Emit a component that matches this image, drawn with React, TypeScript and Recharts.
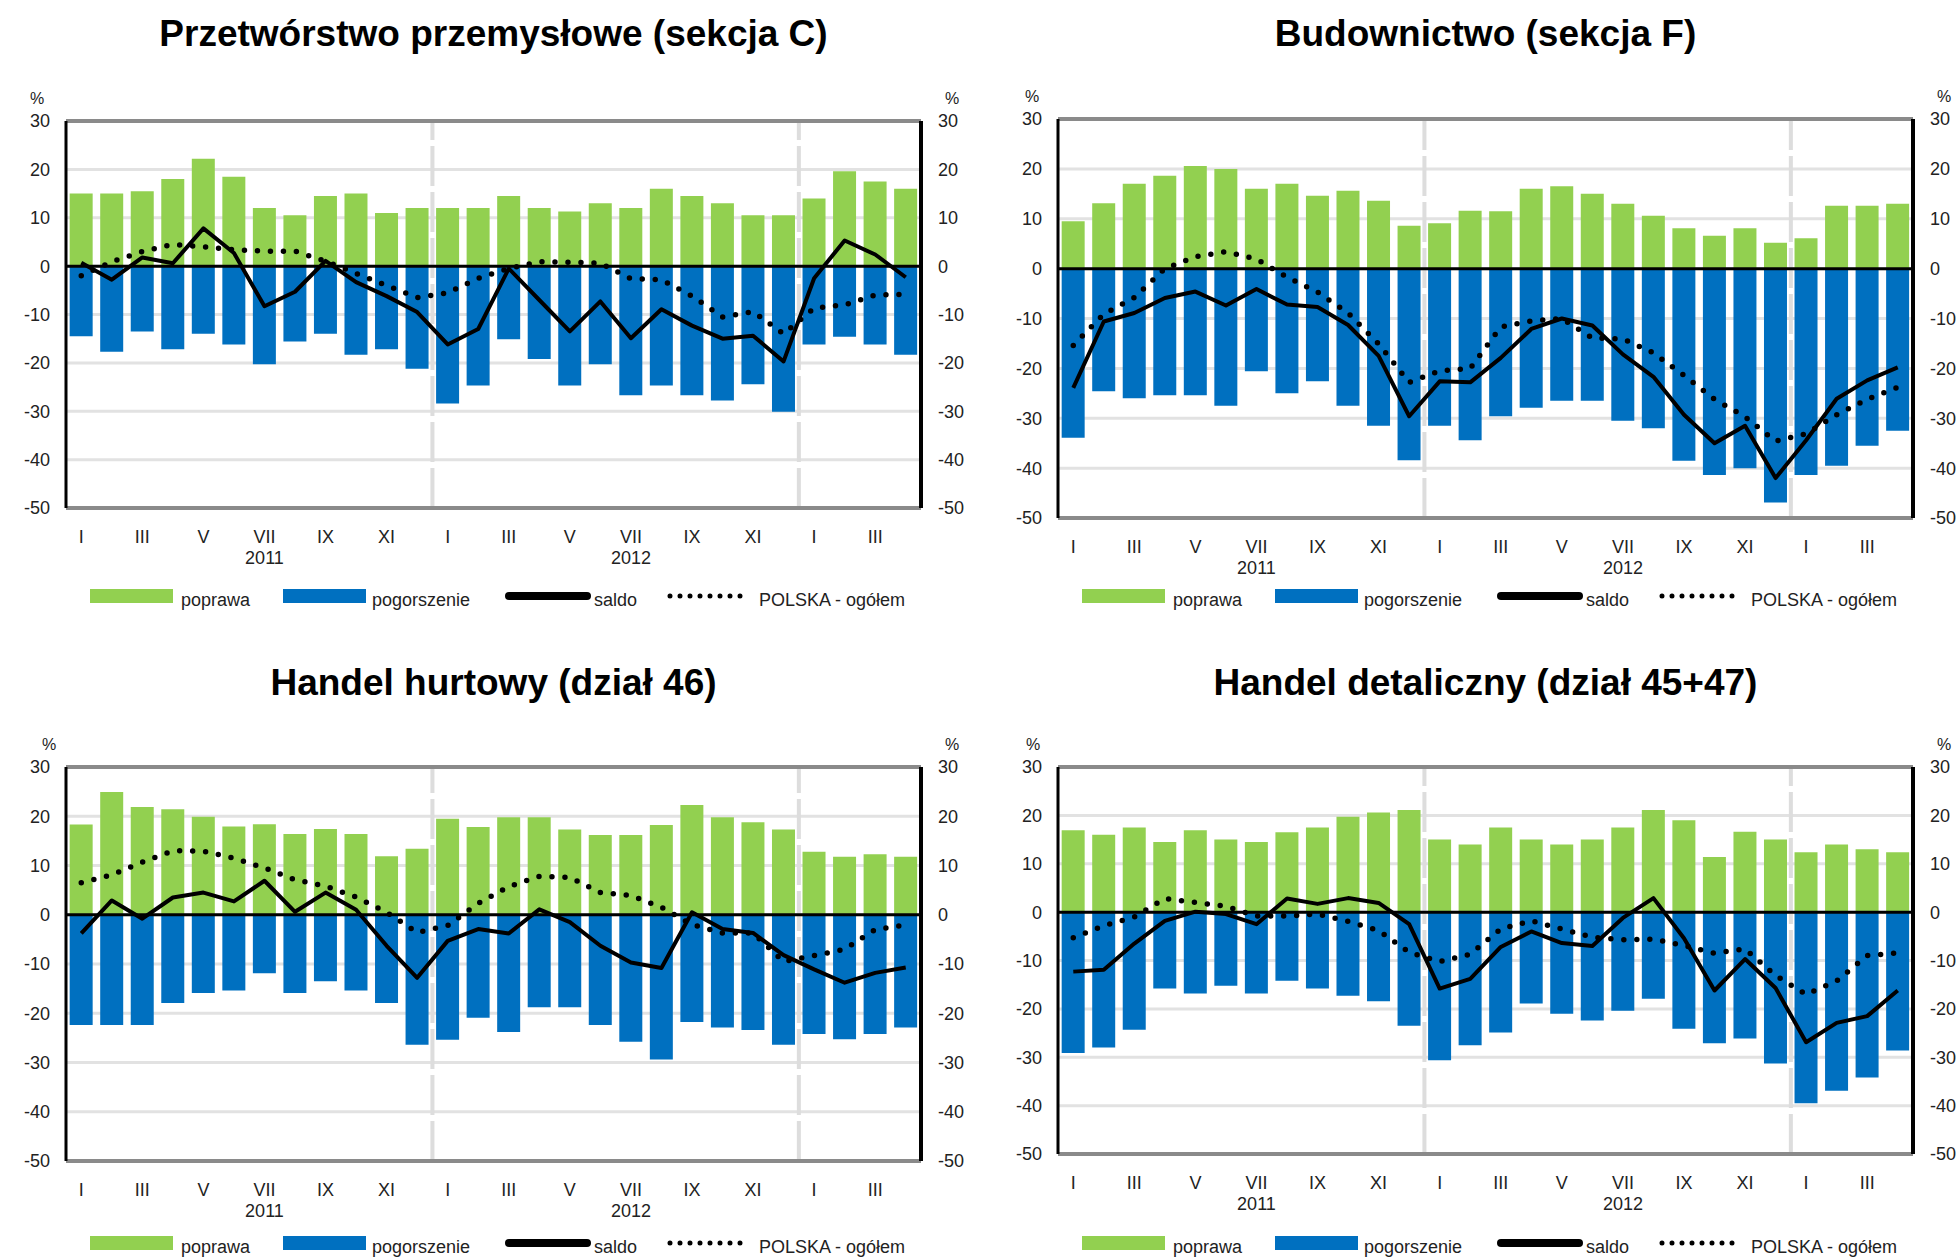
import React from 'react';
import { ComposedChart, Bar, Line, XAxis, YAxis, CartesianGrid, ReferenceLine } from 'recharts';

// ---------- labels ----------
const MONTHS = ['I', 'II', 'III', 'IV', 'V', 'VI', 'VII', 'VIII', 'IX', 'X', 'XI', 'XII'];
const YEARS = ['2011', '2012', '2013'];
const YEAR_STARTS = [12, 24];
const Y_TICKS = [-50, -40, -30, -20, -10, 0, 10, 20, 30];
const LEGEND_NAMES = ['poprawa', 'pogorszenie', 'saldo', 'POLSKA - ogółem'];
const TITLES = [
  'Przetwórstwo przemysłowe (sekcja C)',
  'Budownictwo (sekcja F)',
  'Handel hurtowy (dział 46)',
  'Handel detaliczny (dział 45+47)',
];

// ---------- data: Jan 2011 .. Apr 2013 ----------
const poprawaC = [15, 15, 15.5, 18, 22.2, 18.5, 12, 10.5, 14.5, 15, 11, 12, 12, 12, 14.5, 12, 11.3, 13, 12, 16, 14.5, 13, 10.5, 10.5, 14, 19.6, 17.5, 16];
const pogorszenieC = [-14.5, -17.7, -13.5, -17.2, -14, -16.2, -20.3, -15.6, -14, -18.3, -17.2, -21.2, -28.4, -24.7, -15.1, -19.2, -24.7, -20.3, -26.7, -24.7, -26.7, -27.8, -24.4, -30.1, -16.2, -14.6, -16.2, -18.3];
const saldoC = [0.7, -2.8, 1.8, 0.6, 7.8, 2.7, -8.3, -5.3, 1.1, -3.3, -6.2, -9.5, -16.2, -13, -0.5, -7, -13.5, -7.3, -14.9, -8.9, -12.3, -15, -14.4, -19.7, -2.5, 5.3, 2.4, -2.3];
const polskaC = [-2, 0.9, 3, 4.5, 4, 3.4, 3.1, 3.1, 1, -1.5, -4, -6.5, -5.5, -2.5, -0.5, 0.9, 0.8, 0.6, -2.6, -2.8, -6.2, -10.5, -9.4, -14, -8.7, -8, -6, -5.8];

const poprawaF = [9.5, 13.1, 17, 18.6, 20.6, 20, 16, 17, 14.6, 15.6, 13.6, 8.6, 9.1, 11.6, 11.5, 16, 16.5, 15, 13, 10.6, 8.1, 6.6, 8.1, 5.2, 6.1, 12.6, 12.6, 13];
const pogorszenieF = [-33.9, -24.6, -26, -25.4, -25.4, -27.5, -20.6, -25, -22.6, -27.5, -31.5, -38.4, -31.5, -34.4, -29.6, -27.9, -26.5, -26.5, -30.5, -32, -38.5, -41.4, -40, -46.9, -41.4, -39.5, -35.5, -32.5];
const saldoF = [-23.9, -10.6, -8.9, -5.9, -4.6, -7.4, -4.1, -7.2, -7.7, -11.3, -17.5, -29.6, -22.6, -22.8, -17.9, -12.1, -10, -11.4, -17.2, -21.7, -29.3, -35, -31.5, -42, -34.4, -26.1, -22.4, -19.8];
const polskaF = [-15.4, -9.1, -5.8, 0, 2.4, 3.4, 1.9, -1.7, -4.7, -8.9, -15.1, -22.8, -20.5, -20, -11.7, -10.5, -10, -13.9, -14.1, -16.9, -21.4, -26.2, -29.7, -34.6, -33.1, -29.3, -26.2, -23.8];

const poprawa46 = [18.3, 24.9, 21.9, 21.4, 19.9, 17.9, 18.4, 16.4, 17.4, 16.4, 11.9, 13.4, 19.5, 17.8, 19.8, 19.8, 17.3, 16.2, 16.2, 18.2, 22.3, 19.8, 18.8, 17.3, 12.8, 11.8, 12.3, 11.8];
const pogorszenie46 = [-22.4, -22.4, -22.4, -17.9, -15.9, -15.4, -11.9, -15.9, -13.5, -15.4, -17.9, -26.4, -25.4, -20.9, -23.8, -18.8, -18.8, -22.4, -25.8, -29.4, -21.8, -22.9, -23.4, -26.4, -24.2, -25.3, -24.2, -22.9];
const saldo46 = [-3.8, 2.9, -0.8, 3.5, 4.5, 2.7, 6.9, 0.6, 4.5, 1, -6.3, -12.8, -5.3, -2.9, -3.8, 1.1, -1.5, -6.3, -9.7, -10.8, 0.5, -2.9, -3.7, -8.2, -11.1, -13.8, -11.8, -10.7];
const polska46 = [6.5, 8.1, 10.7, 13, 12.9, 11.5, 9.5, 7.1, 5.8, 3.6, 0.5, -3.6, -2.2, 2.3, 5.7, 7.8, 7.6, 4.5, 3.9, 1.5, -2, -3.7, -3.7, -9.5, -8.3, -7, -3, -2.1];

const poprawa4547 = [16.9, 16, 17.5, 14.5, 16.9, 15, 14.5, 16.5, 17.5, 19.7, 20.6, 21.1, 15, 14, 17.5, 15, 14, 15, 17.5, 21.1, 19, 11.4, 16.6, 15, 12.4, 14, 13, 12.4];
const pogorszenie4547 = [-29.1, -28, -24.3, -15.8, -16.8, -15.2, -16.8, -14.2, -15.8, -17.3, -18.4, -23.5, -30.6, -27.5, -24.9, -18.9, -21, -22.4, -20.4, -17.9, -24.1, -27.1, -26.1, -31.3, -39.5, -36.9, -34.2, -28.6];
const saldo4547 = [-12.3, -11.9, -6.5, -1.8, 0.1, -0.4, -2.5, 2.8, 1.7, 2.9, 1.9, -2.5, -15.8, -13.8, -7.2, -4, -6.4, -7, -1.2, 2.9, -5.4, -16.2, -9.7, -15.7, -26.9, -22.9, -21.5, -16.2];
const polska4547 = [-5.3, -2.8, -1, 2.8, 2, 1.2, -0.8, -0.8, -0.4, -1.9, -3.8, -8.3, -10.2, -8.7, -3.5, -1.8, -3.5, -5.2, -5.7, -5.6, -6.9, -8.5, -7.6, -13.1, -17, -14.2, -9, -8.4];

// ---------- styles ----------
const GREEN = '#92d050';
const BLUE = '#0070c0';
const FONT = '"Liberation Sans", Arial, sans-serif';
const TEXT = '#222';

function buildRows(p: number[], g: number[], s: number[], pl: number[]) {
  return p.map((v, i) => ({ idx: i, poprawa: v, pogorszenie: g[i], saldo: s[i], polska: pl[i] }));
}

const PANELS = [
  { title: TITLES[0], rows: buildRows(poprawaC, pogorszenieC, saldoC, polskaC), left: 66, right: 921, top: 121, bottom: 508, titleY: 34, legendY: 596, pctL: 37, pctR: 952, pctY: 99 },
  { title: TITLES[1], rows: buildRows(poprawaF, pogorszenieF, saldoF, polskaF), left: 1058, right: 1913, top: 119, bottom: 518, titleY: 34, legendY: 596, pctL: 1032, pctR: 1944, pctY: 97 },
  { title: TITLES[2], rows: buildRows(poprawa46, pogorszenie46, saldo46, polska46), left: 66, right: 921, top: 767, bottom: 1161, titleY: 683, legendY: 1243, pctL: 49, pctR: 952, pctY: 745 },
  { title: TITLES[3], rows: buildRows(poprawa4547, pogorszenie4547, saldo4547, polska4547), left: 1058, right: 1913, top: 767, bottom: 1154, titleY: 683, legendY: 1243, pctL: 1033, pctR: 1944, pctY: 745 },
];

const AXIS_W = 60;
const X_H = 70;
const M_TOP = 10;

const MonthTick = (props: any) => {
  const { x, y, payload } = props;
  const i = Number(payload.value);
  const year = i % 12 === 6 ? YEARS[Math.floor(i / 12)] : null;
  return (
    <g>
      <text x={x} y={y + 29} textAnchor="middle" dominantBaseline="central" fontSize={18} fill={TEXT} fontFamily={FONT}>
        {MONTHS[i % 12]}
      </text>
      {year && (
        <text x={x} y={y + 50} textAnchor="middle" dominantBaseline="central" fontSize={18} fill={TEXT} fontFamily={FONT}>
          {year}
        </text>
      )}
    </g>
  );
};

function Legend({ x, y }: { x: number; y: number }) {
  const ty = y + 4;
  return (
    <svg style={{ position: 'absolute', left: 0, top: 0, overflow: 'visible' }} width={1} height={1}>
      <rect x={x} y={y - 7} width={83} height={14} fill={GREEN} />
      <text x={x + 91} y={ty} fontSize={18} fill={TEXT} fontFamily={FONT} dominantBaseline="central">{LEGEND_NAMES[0]}</text>
      <rect x={x + 193} y={y - 7} width={83} height={14} fill={BLUE} />
      <text x={x + 282} y={ty} fontSize={18} fill={TEXT} fontFamily={FONT} dominantBaseline="central">{LEGEND_NAMES[1]}</text>
      <line x1={x + 419} x2={x + 497} y1={y} y2={y} stroke="#000" strokeWidth={8} strokeLinecap="round" />
      <text x={x + 504} y={ty} fontSize={18} fill={TEXT} fontFamily={FONT} dominantBaseline="central">{LEGEND_NAMES[2]}</text>
      <line x1={x + 580} x2={x + 660} y1={y} y2={y} stroke="#000" strokeWidth={5} strokeDasharray="0 10" strokeLinecap="round" />
      <text x={x + 669} y={ty} fontSize={18} fill={TEXT} fontFamily={FONT} dominantBaseline="central">{LEGEND_NAMES[3]}</text>
    </svg>
  );
}

function Panel({ p }: { p: (typeof PANELS)[number] }) {
  const plotW = p.right - p.left;
  const plotH = p.bottom - p.top;
  const width = plotW + 2 * AXIS_W;
  const height = plotH + M_TOP + X_H;
  const cx = (p.left + p.right) / 2;
  return (
    <>
      <div style={{ position: 'absolute', left: cx - 500, width: 1000, top: p.titleY - 22, height: 44, lineHeight: '44px', textAlign: 'center', fontFamily: FONT, fontWeight: 'bold', fontSize: 37, color: '#000' }}>
        {p.title}
      </div>
      <div style={{ position: 'absolute', left: p.pctL - 10, width: 20, top: p.pctY - 10, height: 20, lineHeight: '20px', textAlign: 'center', fontFamily: FONT, fontSize: 16, color: TEXT }}>%</div>
      <div style={{ position: 'absolute', left: p.pctR - 10, width: 20, top: p.pctY - 10, height: 20, lineHeight: '20px', textAlign: 'center', fontFamily: FONT, fontSize: 16, color: TEXT }}>%</div>
      <div style={{ position: 'absolute', left: p.left - AXIS_W, top: p.top - M_TOP }}>
        <ComposedChart
          width={width}
          height={height}
          data={p.rows}
          margin={{ top: M_TOP, right: 0, bottom: 0, left: 0 }}
          stackOffset="sign"
          barCategoryGap="12%"
        >
          <CartesianGrid yAxisId="left" horizontal vertical={false} stroke="#e2e2e2" strokeWidth={3} />
          <XAxis
            dataKey="idx"
            type="category"
            interval={1}
            axisLine={false}
            tickLine={false}
            tickSize={0}
            tickMargin={0}
            height={X_H}
            tick={<MonthTick />}
          />
          <YAxis
            yAxisId="left"
            domain={[-50, 30]}
            ticks={Y_TICKS}
            interval={0}
            width={AXIS_W}
            axisLine={{ stroke: '#000', strokeWidth: 3 }}
            tickLine={false}
            tickSize={0}
            tickMargin={16}
            tick={{ fontSize: 18, fill: TEXT, fontFamily: FONT }}
            allowDataOverflow
          />
          <YAxis
            yAxisId="right"
            orientation="right"
            domain={[-50, 30]}
            ticks={Y_TICKS}
            interval={0}
            width={AXIS_W}
            axisLine={{ stroke: '#000', strokeWidth: 4 }}
            tickLine={false}
            tickSize={0}
            tickMargin={17}
            tick={{ fontSize: 18, fill: TEXT, fontFamily: FONT }}
            allowDataOverflow
          />
          {YEAR_STARTS.map((s) => (
            <ReferenceLine key={s} yAxisId="left" x={s} position="start" stroke="#dddddd" strokeWidth={4} strokeDasharray="40 6" />
          ))}
          <Bar yAxisId="left" dataKey="poprawa" stackId="s" fill={GREEN} isAnimationActive={false} />
          <Bar yAxisId="left" dataKey="pogorszenie" stackId="s" fill={BLUE} isAnimationActive={false} />
          <ReferenceLine yAxisId="left" y={30} stroke="#8a8a8a" strokeWidth={4} />
          <ReferenceLine yAxisId="left" y={-50} stroke="#8a8a8a" strokeWidth={4} />
          <ReferenceLine yAxisId="left" y={0} stroke="#000" strokeWidth={3} />
          <Line yAxisId="left" type="linear" dataKey="polska" stroke="#000" strokeWidth={5.5} strokeDasharray="0 13" strokeLinecap="round" dot={false} isAnimationActive={false} />
          <Line yAxisId="left" type="linear" dataKey="saldo" stroke="#000" strokeWidth={4} strokeLinejoin="round" dot={false} isAnimationActive={false} />
        </ComposedChart>
      </div>
      <Legend x={p.left + 24} y={p.legendY} />
    </>
  );
}

export default function App() {
  return (
    <div style={{ position: 'absolute', left: 0, top: 0, width: 1957, height: 1260, overflow: 'hidden', background: '#fff', fontFamily: FONT }}>
      {PANELS.map((p, i) => (
        <Panel key={i} p={p} />
      ))}
    </div>
  );
}
